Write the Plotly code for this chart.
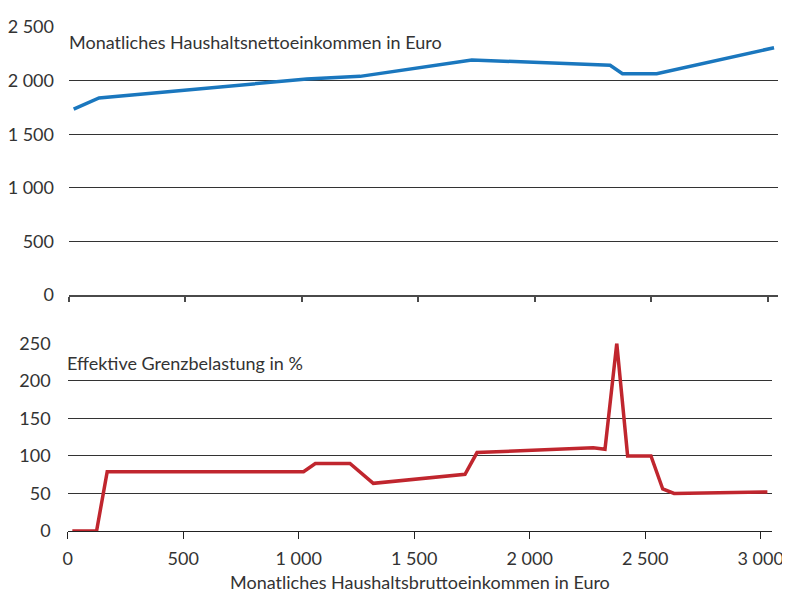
import plotly.graph_objects as go

# ---- data ----
net_x = [20, 129, 1021, 1250, 1730, 2324, 2377, 2524, 3028]
net_y = [1735, 1838, 2015, 2040, 2193, 2143, 2065, 2065, 2307]

marg_x = [20, 125, 171, 1021, 1072, 1222, 1323, 1720, 1772, 2275, 2326, 2377, 2424, 2525, 2576, 2625, 3029]
marg_y = [0, 0, 79, 79, 90, 90, 63.5, 75.5, 104.5, 111, 109, 250, 100, 100, 56, 50, 52]

x_tickvals = [0, 500, 1000, 1500, 2000, 2500, 3000]
x_ticktext = ["0", "500", "1 000", "1 500", "2 000", "2 500", "3 000"]
top_tickvals = [0, 500, 1000, 1500, 2000, 2500]
top_ticktext = ["0", "500", "1 000", "1 500", "2 000", "2 500"]
bot_tickvals = [0, 50, 100, 150, 200, 250]
bot_ticktext = ["0", "50", "100", "150", "200", "250"]

title_top = "Monatliches Haushaltsnettoeinkommen in Euro"
title_bot = "Effektive Grenzbelastung in %"
x_title = "Monatliches Haushaltsbruttoeinkommen in Euro"

# the page body has an 8px margin, so the figure is 8px smaller on each side
OFF = 8
W, H = 790 - OFF, 596 - OFF
FONT = "Lato"
TXT = "#333333"
BLUE = "#1a77be"
RED = "#c0262e"

def px(x):
    return (x - OFF) / W

def py(y):
    return 1 - (y - OFF) / H

fig = go.Figure()
fig.add_trace(go.Scatter(x=net_x, y=net_y, mode="lines",
                         line=dict(color=BLUE, width=3.5), xaxis="x", yaxis="y",
                         showlegend=False, hoverinfo="skip"))
fig.add_trace(go.Scatter(x=marg_x, y=marg_y, mode="lines",
                         line=dict(color=RED, width=3.5), xaxis="x2", yaxis="y2",
                         showlegend=False, hoverinfo="skip"))

common_x = dict(tickvals=x_tickvals, showgrid=False, zeroline=False,
                showline=True, ticks="outside", automargin=False, fixedrange=True)

fig.update_layout(
    width=W, height=H,
    margin=dict(l=0, r=0, t=0, b=0),
    paper_bgcolor="white", plot_bgcolor="white",
    font=dict(family=FONT, size=18, color=TXT),
    xaxis=dict(domain=[px(69), px(778)], range=[0, 3045], anchor="y",
               showticklabels=False, linecolor="#4a4a4a", linewidth=2,
               tickcolor="#4a4a4a", ticklen=5, tickwidth=1.5, **common_x),
    yaxis=dict(domain=[py(295), py(27)], range=[0, 2500.5], anchor="x",
               tickvals=top_tickvals, ticktext=top_ticktext,
               showgrid=True, gridcolor="#333333", gridwidth=1,
               zeroline=False, showline=False, ticks="",
               ticklabelstandoff=14, automargin=False, fixedrange=True),
    xaxis2=dict(domain=[px(67.7), px(772)], range=[0, 3049], anchor="y2",
                ticktext=x_ticktext, linecolor="#222222", linewidth=1.2,
                tickcolor="#222222", ticklen=7, tickwidth=1,
                ticklabelstandoff=4, **common_x),
    yaxis2=dict(domain=[py(531), py(343.3)], range=[0, 250.1], anchor="x2",
                tickvals=bot_tickvals, ticktext=bot_ticktext,
                showgrid=True, gridcolor="#333333", gridwidth=1,
                zeroline=False, showline=False, ticks="",
                ticklabelstandoff=16, automargin=False, fixedrange=True),
    shapes=[dict(type="line", xref="paper", yref="paper",
                 x0=px(9), x1=1, y0=py(3.5), y1=py(3.5),
                 line=dict(color="#333333", width=2))],
    annotations=[
        dict(text=title_top, xref="paper", yref="paper", x=px(67), y=py(42),
             xanchor="left", yanchor="middle", showarrow=False),
        dict(text=title_bot, xref="paper", yref="paper", x=px(65), y=py(363),
             xanchor="left", yanchor="middle", showarrow=False),
        dict(text=x_title, xref="paper", yref="paper", x=px(420), y=py(582),
             xanchor="center", yanchor="middle", showarrow=False),
    ],
)

fig.write_html("out.html")
